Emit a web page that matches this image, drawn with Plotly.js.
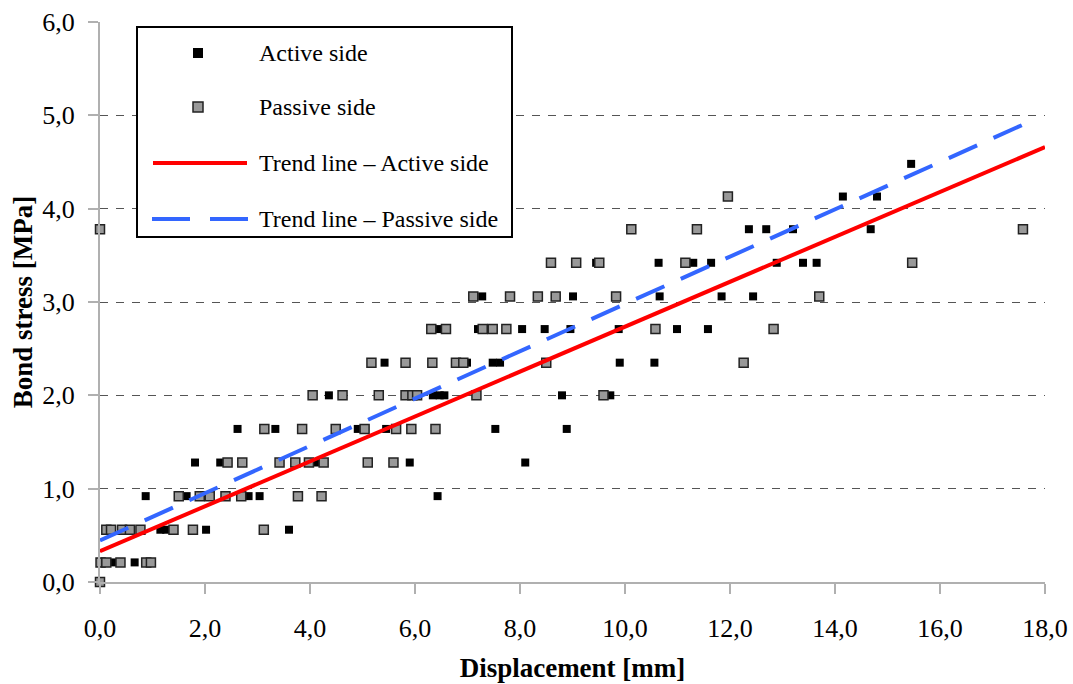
<!DOCTYPE html>
<html>
<head>
<meta charset="utf-8">
<script src="https://cdn.plot.ly/plotly-3.0.1.min.js"></script>
<style>html,body{margin:0;padding:0;background:#fff;}#chart{width:1073px;height:684px;}</style>
</head>
<body>
<div id="chart"></div>
<script>
// Active side (displacement [mm], bond stress [MPa])
const activeX = [0.23,0.66,0.87,1.15,1.26,1.65,1.81,2.02,2.29,2.62,2.83,3.04,3.34,3.60,4.13,4.36,4.91,5.42,5.45,5.90,6.34,6.43,6.43,6.47,6.56,6.99,7.20,7.28,7.48,7.53,7.62,8.04,8.10,8.47,8.80,8.89,8.96,9.01,9.45,9.72,9.88,9.90,10.56,10.64,10.66,10.99,11.30,11.58,11.64,11.84,12.36,12.44,12.69,12.89,13.20,13.39,13.65,14.15,14.68,14.80,15.45];
const activeY = [0.21,0.21,0.92,0.56,0.56,0.92,1.28,0.56,1.28,1.64,0.92,0.92,1.64,0.56,1.28,2.00,1.64,2.35,1.64,1.28,2.00,2.71,0.92,2.00,2.00,2.35,2.71,3.06,2.35,1.64,2.35,2.71,1.28,2.71,2.00,1.64,2.71,3.06,3.42,2.00,2.71,2.35,2.35,3.42,3.06,2.71,3.42,2.71,3.42,3.06,3.78,3.06,3.78,3.42,3.78,3.42,3.42,4.13,3.78,4.13,4.48];
// Passive side
const passiveX = [0.00,0.00,0.01,0.12,0.39,0.88,0.97,0.12,0.21,0.42,0.57,0.77,1.40,1.77,3.12,1.50,1.90,2.09,2.39,2.69,3.77,4.22,2.43,2.71,3.42,3.72,3.98,4.26,5.10,5.59,3.13,3.85,4.49,5.04,5.64,5.93,6.39,4.05,4.62,5.31,5.82,5.95,6.04,7.17,9.59,5.17,5.82,6.33,6.78,6.92,8.50,12.26,6.31,6.59,7.29,7.48,7.74,10.58,12.83,7.11,7.81,8.34,8.68,9.83,13.70,8.59,9.07,9.51,11.15,15.47,10.12,11.37,17.58,11.96];
const passiveY = [0.00,3.78,0.21,0.21,0.21,0.21,0.21,0.56,0.56,0.56,0.56,0.56,0.56,0.56,0.56,0.92,0.92,0.92,0.92,0.92,0.92,0.92,1.28,1.28,1.28,1.28,1.28,1.28,1.28,1.28,1.64,1.64,1.64,1.64,1.64,1.64,1.64,2.00,2.00,2.00,2.00,2.00,2.00,2.00,2.00,2.35,2.35,2.35,2.35,2.35,2.35,2.35,2.71,2.71,2.71,2.71,2.71,2.71,2.71,3.06,3.06,3.06,3.06,3.06,3.06,3.42,3.42,3.42,3.42,3.42,3.78,3.78,3.78,4.13];
// Trend lines (end points)
const trendActiveX = [0, 18];
const trendActiveY = [0.33, 4.66];
const trendPassiveX = [0, 17.58];
const trendPassiveY = [0.445, 4.90];
const xTicks = [0,2,4,6,8,10,12,14,16,18];
const yTicks = [0,1,2,3,4,5,6];
const legendLabels = ['Active side','Passive side','Trend line – Active side','Trend line – Passive side'];

const FONT = '"Liberation Serif", "Times New Roman", serif';
const L = 100, R = 1045, T = 22, B = 582;
const px = x => (x - L) / (R - L);
const py = y => (B - y) / (B - T);

const traces = [
  {x: activeX, y: activeY, type: 'scatter', mode: 'markers', name: legendLabels[0], cliponaxis: false,
   marker: {symbol: 'square', size: 8, color: '#000000', line: {width: 0}}},
  {x: passiveX, y: passiveY, type: 'scatter', mode: 'markers', name: legendLabels[1], cliponaxis: false,
   marker: {symbol: 'square', size: 9, color: '#999999', line: {width: 1.5, color: '#222222'}}},
  {x: trendActiveX, y: trendActiveY, type: 'scatter', mode: 'lines', name: legendLabels[2],
   line: {color: '#ff0000', width: 4}},
  {x: trendPassiveX, y: trendPassiveY, type: 'scatter', mode: 'lines', name: legendLabels[3],
   line: {color: '#3366ff', width: 4, dash: '31px,18px'}}
];

const shapes = [
  {type: 'rect', xref: 'paper', yref: 'paper', x0: px(137), x1: px(512), y0: py(237), y1: py(27),
   line: {color: '#000', width: 2}, fillcolor: '#ffffff', layer: 'above'},
  {type: 'rect', xref: 'paper', yref: 'paper', x0: px(193), x1: px(203), y0: py(58), y1: py(48),
   line: {width: 0}, fillcolor: '#000', layer: 'above'},
  {type: 'rect', xref: 'paper', yref: 'paper', x0: px(193), x1: px(203), y0: py(112), y1: py(102),
   line: {width: 1.5, color: '#222'}, fillcolor: '#999', layer: 'above'},
  {type: 'line', xref: 'paper', yref: 'paper', x0: px(153), x1: px(247), y0: py(163), y1: py(163),
   line: {width: 4, color: '#ff0000'}, layer: 'above'},
  {type: 'line', xref: 'paper', yref: 'paper', x0: px(152), x1: px(248), y0: py(219), y1: py(219),
   line: {width: 4, color: '#3366ff', dash: '38px,20px'}, layer: 'above'}
];

const legendY = [53, 107, 163, 219];
const annotations = legendLabels.map((t, i) => ({
  text: t, xref: 'paper', yref: 'paper', x: px(257), y: py(legendY[i]),
  xanchor: 'left', yanchor: 'middle', showarrow: false,
  font: {family: FONT, size: 24, color: '#000'}
}));

const layout = {
  width: 1073, height: 684,
  margin: {l: L, r: 1073 - R, t: T, b: 684 - B, pad: 0},
  paper_bgcolor: '#fff', plot_bgcolor: '#fff',
  separators: ', ',
  showlegend: false,
  font: {family: FONT, size: 26, color: '#000'},
  xaxis: {
    range: [0, 18], tickvals: xTicks, tickformat: '.1f',
    showgrid: false, zeroline: false,
    showline: true, linecolor: '#b0b0b0', linewidth: 2,
    ticks: 'outside', ticklen: 10, tickcolor: '#b0b0b0', tickwidth: 2,
    ticklabelstandoff: 12,
    tickfont: {family: FONT, size: 26, color: '#000'},
    title: {text: '<b>Displacement [mm]</b>', font: {family: FONT, size: 27, color: '#000'}, standoff: 16}
  },
  yaxis: {
    range: [0, 6], tickvals: yTicks, tickformat: '.1f',
    showgrid: true, gridcolor: '#555555', gridwidth: 1, griddash: '8px,8px',
    zeroline: false,
    showline: true, linecolor: '#b0b0b0', linewidth: 2,
    ticks: 'outside', ticklen: 10, tickcolor: '#b0b0b0', tickwidth: 2,
    ticklabelstandoff: 8,
    tickfont: {family: FONT, size: 26, color: '#000'},
    title: {text: '<b>Bond stress [MPa]</b>', font: {family: FONT, size: 27, color: '#000'}, standoff: 2}
  },
  shapes: shapes,
  annotations: annotations
};

Plotly.newPlot('chart', traces, layout, {displayModeBar: false, staticPlot: true});
</script>
</body>
</html>
